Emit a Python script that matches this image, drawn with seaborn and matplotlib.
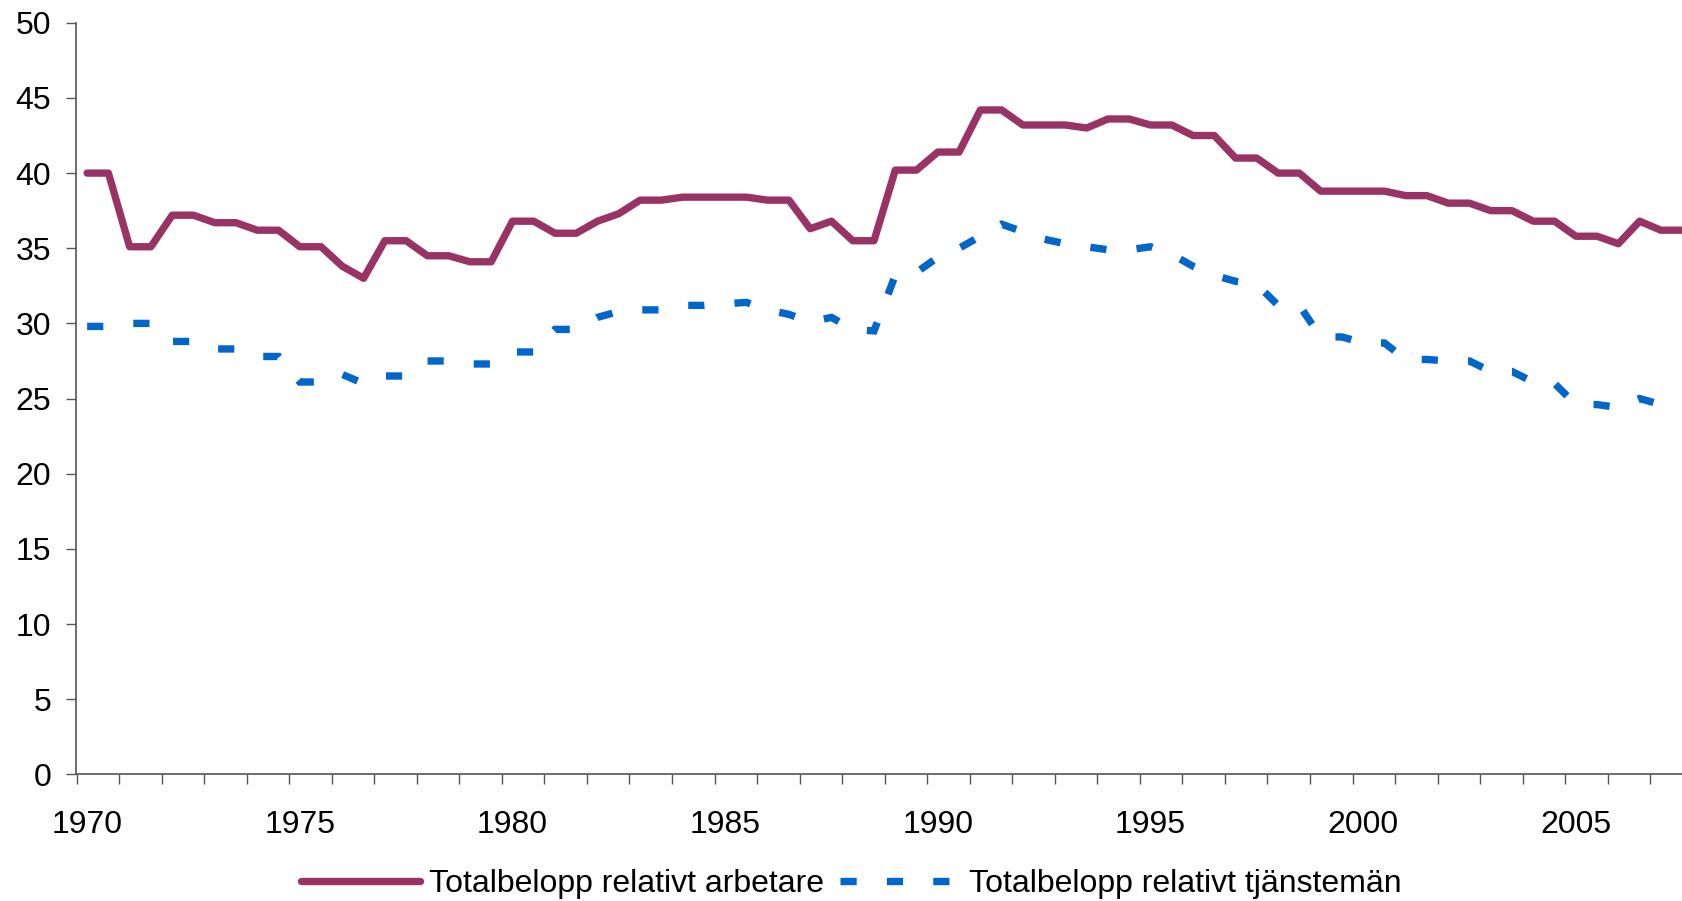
import numpy as np
import pandas as pd
import matplotlib
matplotlib.use('Agg')
import matplotlib.pyplot as plt
import seaborn as sns

# halvårsdata 1970-2007
halvar = np.arange(1970, 2008, 0.5)

arbetare = [40.0, 40.0, 35.1, 35.1, 37.2, 37.2, 36.7, 36.7, 36.2, 36.2,
            35.1, 35.1, 33.8, 33.0, 35.5, 35.5, 34.5, 34.5, 34.1, 34.1,
            36.8, 36.8, 36.0, 36.0, 36.8, 37.3, 38.2, 38.2, 38.4, 38.4,
            38.4, 38.4, 38.2, 38.2, 36.3, 36.8, 35.5, 35.5, 40.2, 40.2,
            41.4, 41.4, 44.2, 44.2, 43.2, 43.2, 43.2, 43.0, 43.6, 43.6,
            43.2, 43.2, 42.5, 42.5, 41.0, 41.0, 40.0, 40.0, 38.8, 38.8,
            38.8, 38.8, 38.5, 38.5, 38.0, 38.0, 37.5, 37.5, 36.8, 36.8,
            35.8, 35.8, 35.3, 36.8, 36.2, 36.2]

tjansteman = [29.8, 29.8, 30.0, 30.0, 28.8, 28.8, 28.3, 28.3, 27.8, 27.8,
              26.1, 26.1, 26.6, 26.0, 26.5, 26.5, 27.5, 27.5, 27.3, 27.3,
              28.1, 28.1, 29.6, 29.6, 30.4, 30.8, 30.9, 30.9, 31.2, 31.2,
              31.3, 31.4, 30.9, 30.6, 30.1, 30.4, 29.6, 29.5, 33.2, 33.4,
              34.4, 35.0, 35.8, 36.6, 36.1, 35.6, 35.3, 35.1, 34.9, 34.9,
              35.1, 34.6, 33.8, 33.2, 32.8, 32.6, 31.2, 31.2, 29.1, 29.1,
              28.7, 28.7, 27.6, 27.6, 27.5, 27.5, 26.8, 26.8, 26.1, 26.0,
              24.6, 24.6, 24.4, 25.0, 24.6, 24.6]

serie_namn = ['Totalbelopp relativt arbetare', 'Totalbelopp relativt tjänstemän']
etikett_ar = np.arange(1970, 2006, 5)
y_ticks = np.arange(0, 51, 5)

sns.set_style('white')
plt.rcParams['font.family'] = ['Liberation Sans', 'DejaVu Sans']

W, H = 1683, 901
fig = plt.figure(figsize=(W / 100, H / 100), dpi=100)
ax = fig.add_axes([76.5 / W, (H - 774.3) / H, 1 - 76.5 / W, (774.3 - 22.8) / H])

df = pd.DataFrame({'halvar': halvar, serie_namn[0]: arbetare, serie_namn[1]: tjansteman})

sns.lineplot(data=df, x='halvar', y=serie_namn[0], color='#993366', linewidth=5.3,
             solid_capstyle='round', solid_joinstyle='round', label=serie_namn[0], ax=ax)
sns.lineplot(data=df, x='halvar', y=serie_namn[1], color='#0066CC', linewidth=5.3,
             linestyle=(0, (2.2, 4.1)), dash_capstyle='butt', dash_joinstyle='miter',
             label=serie_namn[1], ax=ax)

ax.set_xlim(1969.75, 2007.52)
ax.set_ylim(0, 50)
ax.set_xlabel('')
ax.set_ylabel('')

# årsstreck mellan kategorierna, etiketter var femte år
ax.set_xticks(np.arange(1969.75, 2007.6, 1.0))
ax.set_xticklabels([])
ax.set_xticks(etikett_ar, minor=True)
ax.set_xticklabels([str(a) for a in etikett_ar], minor=True)
ax.set_yticks(y_ticks)
ax.set_yticklabels([str(v) for v in y_ticks])

ax.tick_params(axis='x', which='major', bottom=True, length=7.2, width=1, color='#555555')
ax.tick_params(axis='x', which='minor', bottom=True, length=0, pad=25.5, labelsize=23,
               labelcolor='black')
ax.tick_params(axis='y', left=True, length=7.2, width=1, color='#555555', pad=11, labelsize=23,
               labelcolor='black')

for s in ['top', 'right']:
    ax.spines[s].set_visible(False)
for s in ['left', 'bottom']:
    ax.spines[s].set_color('#555555')
    ax.spines[s].set_linewidth(1.2)

handles, labels = ax.get_legend_handles_labels()
ax.get_legend().remove()
fig.legend(handles, labels, loc='center', bbox_to_anchor=(851 / W, 1 - 884 / H), ncol=2,
           frameon=False, fontsize=23, handlelength=3.72, handletextpad=0.3,
           columnspacing=0.5, borderaxespad=0, borderpad=0, labelcolor='black')

fig.savefig('out.png', dpi=100, facecolor='white')
